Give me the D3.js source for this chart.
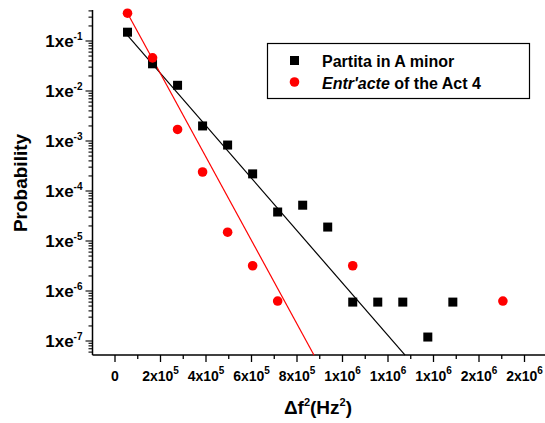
<!doctype html>
<html>
<head>
<meta charset="UTF-8">
<script src="https://d3js.org/d3.v7.min.js"></script>
<style>
body{margin:0;background:#fff;}
text{font-family:Arial,"Liberation Sans",sans-serif;font-weight:bold;}
</style>
</head>
<body>
<script>
// data
var partitaX = [5.5e4,1.65e5,2.75e5,3.85e5,4.95e5,6.05e5,7.15e5,8.25e5,9.35e5,1.045e6,1.155e6,1.265e6,1.375e6,1.485e6];
var partitaY = [0.15,0.035,0.013,0.002,8.3e-4,2.2e-4,3.8e-5,5.2e-5,1.9e-5,6e-7,6e-7,6e-7,1.2e-7,6e-7];
var entrX = [5.5e4,1.65e5,2.75e5,3.85e5,4.95e5,6.05e5,7.15e5,1.045e6,1.705e6];
var entrY = [0.36,0.046,1.7e-3,2.4e-4,1.5e-5,3.2e-6,6.3e-7,3.2e-6,6.3e-7];
var partitaFitX = [5.5e4,1.275e6], partitaFitY = [0.13,5.2e-8];
var entrFitX = [5.5e4,8.75e5], entrFitY = [0.36,5.2e-8];
var xTicks = [0,2e5,4e5,6e5,8e5,1e6,1.2e6,1.4e6,1.6e6,1.8e6];
var xTickLabels = ["0","2x10^5","4x10^5","6x10^5","8x10^5","1x10^6","1x10^6","1x10^6","2x10^6","2x10^6"];
var yTicks = [1e-1,1e-2,1e-3,1e-4,1e-5,1e-6,1e-7];
var yTickLabels = ["1xe^-1","1xe^-2","1xe^-3","1xe^-4","1xe^-5","1xe^-6","1xe^-7"];
var seriesNames = ["Partita in A minor","Entr'acte"];

var W=545,H=423, L=92.5, B=355, T=10, R=545;
var svg = d3.select("body").append("svg").attr("width",W).attr("height",H);
var x = d3.scaleLinear().domain([0,2e5]).range([115,160.5]);
var y = d3.scaleLog().domain([1e-1,1e-7]).range([41,341]);
var xMin = x.invert(L), xMax = x.invert(R);
var yTop = y.invert(T), yBot = y.invert(B);

function sup(sel, s){
  var p = s.split("^");
  sel.append("tspan").text(p[0]);
  if(p[1]) sel.append("tspan").attr("dy",-7).attr("font-size",10).text(p[1]);
}

// axes lines
svg.append("line").attr("x1",L).attr("x2",L).attr("y1",T).attr("y2",B).attr("stroke","#000").attr("stroke-width",1.5);
svg.append("line").attr("x1",L).attr("x2",R).attr("y1",B).attr("y2",B).attr("stroke","#000").attr("stroke-width",1.5);

// x ticks
for(var v=-1e5; v<=xMax; v+=1e5){
  var major = Math.abs(v/2e5 - Math.round(v/2e5))<1e-9;
  if(v<xMin) continue;
  svg.append("line").attr("x1",x(v)).attr("x2",x(v)).attr("y1",B).attr("y2",B+(major?7:4)).attr("stroke","#000").attr("stroke-width",1.3);
}
xTicks.forEach(function(v,i){
  var t = svg.append("text").attr("x",x(v)).attr("y",B+26).attr("text-anchor","middle").attr("font-size",14);
  sup(t, xTickLabels[i]);
});

// y ticks
for(var e=-8;e<=0;e++){
  for(var m=1;m<10;m++){
    var val = m*Math.pow(10,e);
    if(val>yTop||val<yBot) continue;
    svg.append("line").attr("x1",L).attr("x2",L-(m==1?7:4)).attr("y1",y(val)).attr("y2",y(val)).attr("stroke","#000").attr("stroke-width",1.1);
  }
}
yTicks.forEach(function(v,i){
  var t = svg.append("text").attr("x",L-10).attr("y",y(v)+6).attr("text-anchor","end").attr("font-size",17);
  sup(t, yTickLabels[i]);
});

// axis titles
svg.append("text").attr("transform","translate(27,"+(183)+") rotate(-90)").attr("text-anchor","middle").attr("font-size",19).text("Probability");
var xt = svg.append("text").attr("x",318).attr("y",414).attr("text-anchor","middle").attr("font-size",19);
xt.append("tspan").text("\u0394f");
xt.append("tspan").attr("dy",-8).attr("font-size",11).text("2");
xt.append("tspan").attr("dy",8).text("(Hz");
xt.append("tspan").attr("dy",-8).attr("font-size",11).text("2");
xt.append("tspan").attr("dy",8).text(")");

// fit lines
var line = d3.line().x(function(d){return x(d[0]);}).y(function(d){return y(d[1]);});
svg.append("path").attr("d",line(d3.zip(partitaFitX,partitaFitY))).attr("stroke","#000").attr("fill","none").attr("stroke-width",1.2);
svg.append("path").attr("d",line(d3.zip(entrFitX,entrFitY))).attr("stroke","#f00").attr("fill","none").attr("stroke-width",1.2);

// points
svg.selectAll("rect.p").data(d3.zip(partitaX,partitaY)).enter().append("rect")
  .attr("x",function(d){return x(d[0])-4.5;}).attr("y",function(d){return y(d[1])-4.5;})
  .attr("width",9).attr("height",9).attr("fill","#000");
svg.selectAll("circle.e").data(d3.zip(entrX,entrY)).enter().append("circle")
  .attr("cx",function(d){return x(d[0]);}).attr("cy",function(d){return y(d[1]);})
  .attr("r",4.8).attr("fill","#f00");

// legend
svg.append("rect").attr("x",267.5).attr("y",43.5).attr("width",262).attr("height",55).attr("fill","#fff").attr("stroke","#000").attr("stroke-width",1.2);
svg.append("rect").attr("x",290).attr("y",56).attr("width",9).attr("height",9).attr("fill","#000");
svg.append("circle").attr("cx",294.5).attr("cy",82).attr("r",4.8).attr("fill","#f00");
svg.append("text").attr("x",322).attr("y",67).attr("font-size",16).text(seriesNames[0]);
var lt = svg.append("text").attr("x",322).attr("y",89).attr("font-size",16);
lt.append("tspan").attr("font-style","italic").text(seriesNames[1]);
lt.append("tspan").text(" of the Act 4");
</script>
</body>
</html>
